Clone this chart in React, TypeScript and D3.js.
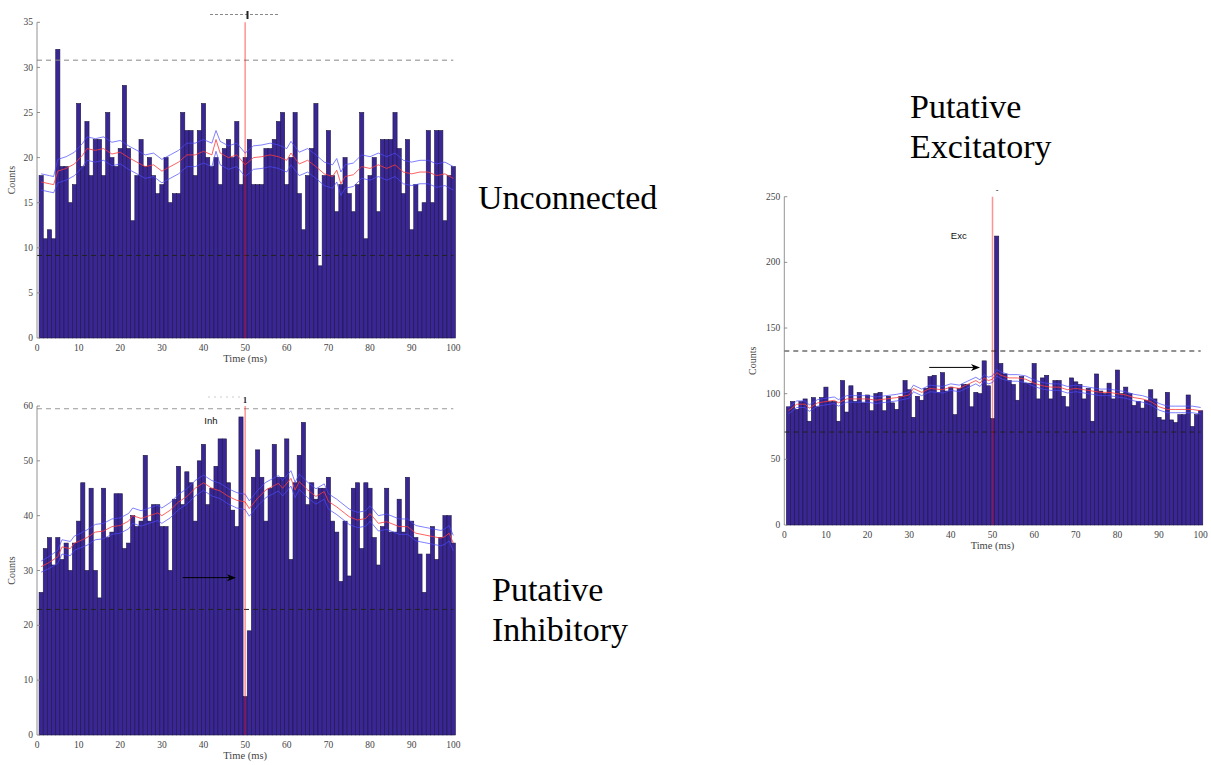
import React from "react";
import * as d3 from "d3";

// ---------------- DATA ----------------
const timeTicks = [0, 10, 20, 30, 40, 50, 60, 70, 80, 90, 100];

// Unconnected
const p1Counts = [
  18, 11, 12, 11, 32, 19, 19, 15, 17, 26,
  19, 24, 18, 22, 22, 18, 25, 20, 19, 21,
  28, 21, 13, 18, 22, 19, 20, 18, 16, 17,
  20, 15, 16, 16, 25, 23, 23, 18, 23, 26,
  20, 19, 20, 17, 21, 22, 20, 24, 17, 20,
  22, 17, 17, 17, 21, 21, 22, 24, 25, 17,
  20, 25, 16, 12, 18, 21, 26, 8, 18, 23,
  18, 14, 17, 20, 16, 14, 17, 25, 11, 18,
  20, 14, 22, 22, 22, 25, 21, 16, 22, 12,
  17, 14, 15, 23, 15, 23, 23, 13, 18, 19,
];
const p1LineX = [1, 3, 4, 5, 7, 9, 11, 12, 14, 16, 18, 20, 22, 24, 26, 28, 30, 32, 34, 36, 38, 40, 42, 43, 44, 46, 48, 50, 52, 54, 56, 58, 60, 61, 63, 65, 67, 69, 71, 72, 73, 74, 76, 78, 80, 82, 84, 86, 88, 90, 92, 94, 96, 98, 100];
const p1Mean = [17.3, 17.1, 17.0, 18.5, 18.8, 19.3, 20.3, 21.0, 20.8, 21.0, 20.4, 20.6, 20.0, 19.5, 19.0, 19.2, 18.5, 19.0, 19.5, 20.3, 20.3, 20.7, 20.3, 22.0, 20.5, 20.0, 20.3, 19.2, 20.0, 20.1, 20.3, 20.1, 19.7, 20.5, 19.3, 19.7, 19.0, 18.2, 17.9, 18.6, 17.1, 17.9, 18.1, 19.0, 18.8, 19.2, 18.8, 19.2, 18.4, 18.2, 18.4, 18.4, 18.0, 18.2, 17.7];
const p1Upper = [18.2, 18.0, 17.9, 19.8, 20.1, 20.6, 21.6, 22.3, 22.1, 22.3, 21.7, 21.9, 21.3, 20.8, 20.3, 20.5, 19.8, 20.3, 20.8, 21.6, 21.6, 22.0, 21.6, 23.0, 21.8, 21.3, 21.6, 20.5, 21.3, 21.4, 21.6, 21.4, 21.0, 21.8, 20.6, 21.0, 20.3, 19.5, 19.2, 19.9, 18.4, 19.2, 19.4, 20.3, 20.1, 20.5, 20.1, 20.5, 19.7, 19.5, 19.7, 19.7, 19.3, 19.5, 19.0];
const p1Lower = [16.4, 16.2, 16.1, 17.2, 17.5, 18.0, 19.0, 19.7, 19.5, 19.7, 19.1, 19.3, 18.7, 18.2, 17.7, 17.9, 17.2, 17.7, 18.2, 19.0, 19.0, 19.4, 19.0, 20.7, 19.2, 18.7, 19.0, 17.9, 18.7, 18.8, 19.0, 18.8, 18.4, 19.2, 18.0, 18.4, 17.7, 16.9, 16.6, 17.3, 15.8, 16.6, 16.8, 17.7, 17.5, 17.9, 17.5, 17.9, 17.1, 16.9, 17.1, 17.1, 16.7, 16.9, 16.4];
const p1Thresholds = [30.8, 9.15];
const p1YTicks = [0, 5, 10, 15, 20, 25, 30, 35];

// Putative Inhibitory
const p2Counts = [
  26, 34, 36, 31, 36, 32, 35, 30, 35, 39,
  46, 30, 45, 30, 25, 45, 36, 37, 44, 44,
  34, 35, 40, 38, 39, 51, 39, 42, 42, 38,
  38, 30, 43, 49, 42, 48, 46, 39, 50, 53,
  42, 45, 49, 54, 54, 46, 41, 38, 58, 7,
  19, 47, 52, 47, 39, 45, 53, 47, 47, 54,
  32, 46, 51, 57, 42, 46, 43, 45, 45, 47,
  39, 37, 28, 39, 29, 45, 46, 34, 46, 45,
  36, 31, 38, 45, 37, 37, 43, 37, 47, 39,
  36, 33, 26, 33, 38, 32, 36, 40, 40, 35,
];
const p2LineX = [1, 3, 5, 6, 8, 9, 10, 12, 14, 16, 18, 20, 22, 23, 25, 27, 29, 30, 32, 34, 36, 38, 40, 42, 44, 46, 48, 50, 51, 53, 55, 58, 59, 61, 62, 63, 65, 67, 69, 70, 72, 75, 77, 79, 80, 82, 84, 87, 89, 91, 93, 95, 97, 98, 99, 100];
const p2Mean = [30.7, 31.5, 32.5, 34.3, 34.0, 35.0, 35.3, 36.0, 37.0, 37.2, 38.0, 38.2, 39.0, 40.0, 39.5, 40.0, 40.5, 40.0, 41.0, 42.5, 43.5, 45.0, 46.0, 45.0, 44.5, 43.5, 42.8, 42.5, 41.3, 43.2, 44.7, 45.9, 45.0, 46.8, 44.7, 46.2, 44.7, 43.5, 44.4, 42.6, 41.6, 39.8, 39.2, 39.5, 40.4, 38.6, 38.9, 38.0, 38.0, 36.8, 36.5, 36.2, 35.9, 36.2, 36.8, 35.0];
const p2Upper = [31.7, 32.6, 33.7, 35.6, 35.3, 36.3, 36.6, 37.4, 38.4, 38.6, 39.4, 39.6, 40.4, 41.4, 40.9, 41.4, 41.9, 41.4, 42.4, 43.9, 44.9, 46.4, 47.4, 46.4, 45.9, 44.9, 44.2, 43.9, 42.7, 44.6, 46.1, 47.3, 46.4, 48.2, 46.1, 47.6, 46.1, 44.9, 45.8, 44.0, 43.0, 41.2, 40.6, 40.9, 41.8, 40.0, 40.3, 39.4, 39.4, 38.2, 37.9, 37.6, 37.3, 37.6, 38.2, 36.4];
const p2Lower = [29.7, 30.4, 31.3, 33.0, 32.7, 33.7, 34.0, 34.6, 35.6, 35.8, 36.6, 36.8, 37.6, 38.6, 38.1, 38.6, 39.1, 38.6, 39.6, 41.1, 42.1, 43.6, 44.6, 43.6, 43.1, 42.1, 41.4, 41.1, 39.9, 41.8, 43.3, 44.5, 43.6, 45.4, 43.3, 44.8, 43.3, 42.1, 43.0, 41.2, 40.2, 38.4, 37.8, 38.1, 39.0, 37.2, 37.5, 36.6, 36.6, 35.4, 35.1, 34.8, 34.5, 34.8, 35.4, 33.6];
const p2Thresholds = [59.5, 22.9];
const p2YTicks = [0, 10, 20, 30, 40, 50, 60];
const p2Arrow = { fromX: 35, toX: 47.8, y: 28.7 };

// Putative Excitatory
const p3Counts = [
  90, 94, 88, 94, 96, 79, 97, 90, 97, 105,
  94, 94, 79, 110, 86, 106, 94, 101, 93, 99,
  87, 100, 101, 87, 98, 93, 88, 98, 110, 103,
  82, 98, 95, 104, 113, 114, 101, 116, 102, 105,
  84, 104, 107, 107, 90, 101, 100, 125, 106, 81,
  220, 123, 115, 110, 107, 95, 113, 108, 108, 123,
  96, 112, 114, 96, 110, 110, 98, 90, 112, 109,
  107, 96, 104, 79, 115, 102, 100, 108, 96, 118,
  100, 105, 100, 91, 94, 89, 95, 103, 96, 82,
  80, 101, 80, 78, 84, 84, 99, 75, 84, 87,
];
const p3LineX = [1, 3, 5, 6, 8, 12, 13, 15, 20, 22, 27, 30, 31, 33, 35, 38, 40, 42, 44, 46, 47, 48, 49, 50, 51, 52, 54, 56, 58, 60, 62, 64, 66, 68, 70, 72, 74, 76, 78, 80, 82, 84, 86, 88, 90, 92, 94, 96, 98, 100];
const p3Mean = [87, 92, 92, 89, 93, 95, 93, 96, 96, 95, 97, 99, 104, 101, 104, 103, 105, 104, 107, 110, 108, 112, 110, 111, 116, 114, 112, 112, 111, 108, 106, 105, 105, 103, 104, 103, 102, 101, 101, 100, 99, 97, 96, 94, 90, 88, 88, 88, 88, 87];
const p3Upper = [89.5, 94.5, 94.5, 91.5, 95.5, 97.5, 95.5, 98.5, 98.5, 97.5, 99.5, 101.5, 106.5, 103.5, 106.5, 105.5, 107.5, 106.5, 109.5, 112.5, 110.5, 114.5, 112.5, 113.5, 118.5, 116.5, 114.5, 114.5, 113.5, 110.5, 108.5, 107.5, 107.5, 105.5, 106.5, 105.5, 104.5, 103.5, 103.5, 102.5, 101.5, 99.5, 98.5, 96.5, 92.5, 90.5, 90.5, 90.5, 90.5, 89.5];
const p3Lower = [84.5, 89.5, 89.5, 86.5, 90.5, 92.5, 90.5, 93.5, 93.5, 92.5, 94.5, 96.5, 101.5, 98.5, 101.5, 100.5, 102.5, 101.5, 104.5, 107.5, 105.5, 109.5, 107.5, 108.5, 113.5, 111.5, 109.5, 109.5, 108.5, 105.5, 103.5, 102.5, 102.5, 100.5, 101.5, 100.5, 99.5, 98.5, 98.5, 97.5, 96.5, 94.5, 93.5, 91.5, 87.5, 85.5, 85.5, 85.5, 85.5, 84.5];
const p3Thresholds = [132.5, 70.8];
const p3YTicks = [0, 50, 100, 150, 200, 250];
const p3Arrow = { fromX: 34.8, toX: 47, y: 120 };

// ---------------- STYLE ----------------
const BAR_FILL = "#3a2795";
const BAR_STROKE = "#1b1540";
const SERIF = "'Liberation Serif', 'Times New Roman', serif";
const SANS = "'Liberation Sans', Arial, sans-serif";

type PanelProps = {
  counts: number[];
  lineX: number[];
  mean: number[];
  upper: number[];
  lower: number[];
  thresholds: number[];
  thresholdColors: string[];
  yTicks: number[];
  yMax: number;
  x0: number; x1: number; yBottom: number; yTop: number;
  countsX: number;
  arrow?: { fromX: number; toX: number; y: number };
  label?: { text: string; x: number; y: number };
};

function Panel(p: PanelProps) {
  const x = d3.scaleLinear().domain([0, 100]).range([p.x0, p.x1]);
  const y = d3.scaleLinear().domain([0, p.yMax]).range([p.yBottom, p.yTop]);
  const bw = x(1) - x(0);
  const mk = (vals: number[]) =>
    d3.line<number>().x((_, i) => x(p.lineX[i])).y((v) => y(v))(vals) || "";
  return (
    <g>
      {p.counts.map((c, i) => (
        <rect key={i} x={x(i + 1) - bw / 2} y={y(c)} width={bw} height={y(0) - y(c)}
          fill={BAR_FILL} stroke={BAR_STROKE} strokeWidth={0.6} />
      ))}
      {p.thresholds.map((t, i) => (
        <line key={i} x1={x(0)} x2={x(100)} y1={y(t)} y2={y(t)}
          stroke={p.thresholdColors[i]} strokeWidth={1} strokeDasharray="5,4" />
      ))}
      <path d={mk(p.upper)} fill="none" stroke="#4a4aff" strokeWidth={1} opacity={0.7} />
      <path d={mk(p.lower)} fill="none" stroke="#4a4aff" strokeWidth={1} opacity={0.7} />
      <path d={mk(p.mean)} fill="none" stroke="#ff3a3a" strokeWidth={1} opacity={0.8} />
      <line x1={x(50)} x2={x(50)} y1={y(0)} y2={y(p.yMax)} stroke="#ff0000" strokeWidth={1.5} opacity={0.42} />
      <line x1={p.x0} x2={p.x0} y1={y(0)} y2={y(p.yMax)} stroke="#777" strokeWidth={0.8} />
      {p.yTicks.map((t) => (
        <g key={t}>
          <line x1={p.x0} x2={p.x0 + 3} y1={y(t)} y2={y(t)} stroke="#777" strokeWidth={0.8} />
          <text x={p.x0 - 4} y={y(t)} dy="0.33em" textAnchor="end" fontFamily={SERIF} fontSize={9.5} fill="#444">{t}</text>
        </g>
      ))}
      {timeTicks.map((t) => (
        <text key={t} x={x(t)} y={p.yBottom + 13} textAnchor="middle" fontFamily={SERIF} fontSize={9.5} fill="#444">{t}</text>
      ))}
      <text x={x(50)} y={p.yBottom + 24} textAnchor="middle" fontFamily={SERIF} fontSize={10.5} fill="#444">Time (ms)</text>
      <text transform={`translate(${p.countsX},${(p.yBottom + p.yTop) / 2}) rotate(-90)`} textAnchor="middle" fontFamily={SERIF} fontSize={10} fill="#444">Counts</text>
      {p.arrow && (
        <g>
          <line x1={x(p.arrow.fromX)} x2={x(p.arrow.toX) - 6} y1={y(p.arrow.y)} y2={y(p.arrow.y)} stroke="#000" strokeWidth={1} />
          <path d={`M${x(p.arrow.toX)},${y(p.arrow.y)} l-9,-3.5 l2.5,3.5 l-2.5,3.5 z`} fill="#000" />
        </g>
      )}
      {p.label && (
        <text x={x(p.label.x)} y={y(p.label.y)} fontFamily={SANS} fontSize={9.5} fill="#111">{p.label.text}</text>
      )}
    </g>
  );
}

export default function App() {
  return (
    <svg width={1211} height={765} style={{ position: "absolute", left: 0, top: 0, background: "#fff" }}>
      <rect width={1211} height={765} fill="#fff" />
      <Panel counts={p1Counts} lineX={p1LineX} mean={p1Mean} upper={p1Upper} lower={p1Lower}
        thresholds={p1Thresholds} thresholdColors={["#888", "#222"]} yTicks={p1YTicks} yMax={35}
        x0={37} x1={453.3} yBottom={338} yTop={22.3} countsX={15} />
      <Panel counts={p2Counts} lineX={p2LineX} mean={p2Mean} upper={p2Upper} lower={p2Lower}
        thresholds={p2Thresholds} thresholdColors={["#999", "#222"]} yTicks={p2YTicks} yMax={60}
        x0={37} x1={453.3} yBottom={735} yTop={406} countsX={15}
        arrow={p2Arrow} label={{ text: "Inh", x: 40.2, y: 56.8 }} />
      <Panel counts={p3Counts} lineX={p3LineX} mean={p3Mean} upper={p3Upper} lower={p3Lower}
        thresholds={p3Thresholds} thresholdColors={["#222", "#222"]} yTicks={p3YTicks} yMax={250}
        x0={784.3} x1={1200.7} yBottom={525} yTop={196.7} countsX={756}
        arrow={p3Arrow} label={{ text: "Exc", x: 40, y: 218 }} />

      <line x1={210} x2={280} y1={14.5} y2={14.5} stroke="#888" strokeWidth={1} strokeDasharray="3,2" />
      <line x1={247.5} x2={247.5} y1={11} y2={19} stroke="#222" strokeWidth={2} />
      <line x1={208} x2={240} y1={397} y2={397} stroke="#ccc" strokeWidth={1} strokeDasharray="2,4" />
      <text x={245} y={403} textAnchor="middle" fontFamily={SERIF} fontWeight="bold" fontSize={8} fill="#111">1</text>
      <text x={997} y={193} textAnchor="middle" fontFamily={SERIF} fontSize={8} fill="#111">-</text>

      <text x={478} y={209} fontFamily={SERIF} fontSize={34} fill="#000">Unconnected</text>
      <text x={910} y={118} fontFamily={SERIF} fontSize={34} fill="#000">Putative</text>
      <text x={910} y={158} fontFamily={SERIF} fontSize={34} fill="#000">Excitatory</text>
      <text x={492} y={601} fontFamily={SERIF} fontSize={34} fill="#000">Putative</text>
      <text x={492} y={641} fontFamily={SERIF} fontSize={34} fill="#000">Inhibitory</text>
    </svg>
  );
}
